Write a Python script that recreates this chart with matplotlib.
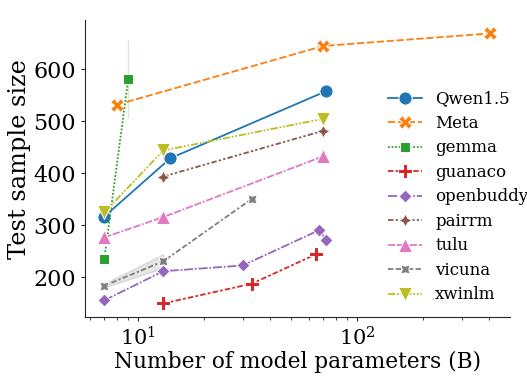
import matplotlib
matplotlib.use('Agg')
import matplotlib.pyplot as plt
import numpy as np

plt.rcParams['font.family'] = ['DejaVu Serif']
plt.rcParams['mathtext.fontset'] = 'dejavuserif'

# model families, sizes (B) and mean test sample size
families = ['Qwen1.5', 'Meta', 'gemma', 'guanaco', 'openbuddy',
            'pairrm', 'tulu', 'vicuna', 'xwinlm']

qwen_x = [7, 14, 72]
qwen_y = [317, 429, 558]
meta_x = [8, 70, 405]
meta_y = [532, 645, 669]
gemma_x = [7, 9]
gemma_y = [235, 581]
guanaco_x = [13, 33, 65]
guanaco_y = [150, 188, 245]
openbuddy_x = [7, 13, 30, 67, 72]
openbuddy_y = [156, 212, 223, 291, 272]
pairrm_x = [13, 70]
pairrm_y = [394, 482]
tulu_x = [7, 13, 70]
tulu_y = [277, 316, 433]
vicuna_x = [7, 13, 33]
vicuna_y = [184, 231, 351]
xwinlm_x = [7, 13, 70]
xwinlm_y = [325, 444, 505]

# confidence band where a size has several models (nan = single model)
gemma_lo = [np.nan, 506]
gemma_hi = [np.nan, 656]
vicuna_lo = [181, 218, np.nan]
vicuna_hi = [188, 245, np.nan]

xs = [qwen_x, meta_x, gemma_x, guanaco_x, openbuddy_x, pairrm_x, tulu_x, vicuna_x, xwinlm_x]
ys = [qwen_y, meta_y, gemma_y, guanaco_y, openbuddy_y, pairrm_y, tulu_y, vicuna_y, xwinlm_y]

colors = plt.get_cmap('tab10').colors
markers = ['o', 'X', (4, 0, 45), 'P', (4, 0, 0), (4, 1, 0), '^', (4, 1, 45), 'v']
dashes = [(), (4, 1.5), (1, 1), (3, 1.25, 1.5, 1.25), (5, 1, 1, 1),
          (3, 1.25, 1.25, 1.25, 1.25, 1.25), (4, 1, 4, 1, 1, 1),
          (3, 1.25, 3, 1.25, 1.25, 1.25), (4, 1, 1, 1, 1, 1)]

fig = plt.figure(figsize=(5.27, 3.76), dpi=100)
ax = fig.add_axes([0.1613, 0.157, 0.806, 0.79])

for i, name in enumerate(families):
    line, = ax.plot(xs[i], ys[i], color=colors[i], marker=markers[i], markersize=9.5,
                    markeredgecolor='w', markeredgewidth=0.75, lw=1.3, label=name)
    if dashes[i]:
        line.set_dashes(dashes[i])

ax.fill_between(gemma_x, gemma_lo, gemma_hi, color=colors[2], alpha=0.2)
ax.fill_between(vicuna_x, vicuna_lo, vicuna_hi, color=colors[7], alpha=0.2)

ax.set_xscale('log')
ax.set_xlabel('Number of model parameters (B)', fontsize=15.7, labelpad=1)
ax.set_ylabel('Test sample size', fontsize=17.3)
ax.yaxis.set_label_coords(-0.127, 0.53)
ax.tick_params(axis='y', labelsize=16)
ax.tick_params(axis='x', labelsize=15)
ax.tick_params(which='major', length=3, pad=3.5, color='.15')
ax.tick_params(which='minor', length=1.8, color='.15')
ax.spines['top'].set_visible(False)
ax.spines['right'].set_visible(False)
for s in ['left', 'bottom']:
    ax.spines[s].set_color('.15')

ax.legend(loc='center left', bbox_to_anchor=(0.679, 0.404), frameon=False, fontsize=12,
          handlelength=2, labelspacing=0.45)

fig.savefig('out.png')
